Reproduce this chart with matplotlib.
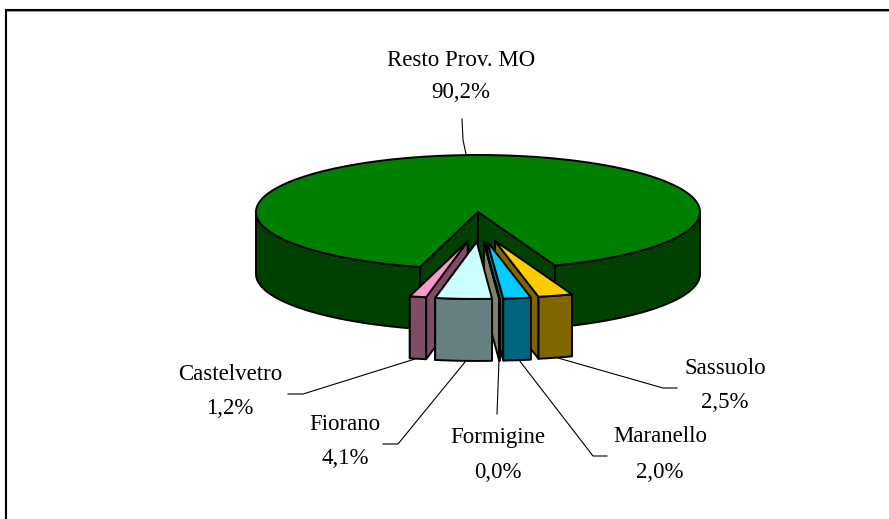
import numpy as np
from matplotlib import pyplot as plt
from matplotlib.patches import Polygon

plt.rcParams['font.family'] = ['Liberation Serif', 'DejaVu Serif']

# quote per comune, parte dal bordo destro del vuoto e gira in senso orario
names = ['Resto Prov. MO', 'Castelvetro', 'Fiorano', 'Formigine', 'Maranello', 'Sassuolo']
shares = [90.2, 1.2, 4.1, 0.04, 2.0, 2.5]
top_colors = ['#008000', '#FF99CC', '#CCFFFF', '#FFFFCC', '#00CCFF', '#FFCC00']
side_colors = ['#004000', '#804D66', '#668080', '#808066', '#006680', '#806600']

# geometria della torta in pixel
cx, cy = 478, 212
rx, ry = 222, 57
depth = 62
explode_x, explode_y = 55, 30
explode_shift = 2
start_angle = 20.3

label_pos = {
    'Resto Prov. MO': (461, 60, 92),
    'Castelvetro': (230, 374, 409),
    'Fiorano': (345, 425, 459),
    'Formigine': (498, 437, 472),
    'Maranello': (660, 437, 472),
    'Sassuolo': (725, 369, 403),
}
leaders = {
    'Resto Prov. MO': [(466, 154), (463, 140), (462, 119)],
    'Castelvetro': [(415, 359), (303, 394), (288, 394)],
    'Fiorano': [(465, 362), (398, 444), (383, 444)],
    'Formigine': [(499, 360), (497, 414)],
    'Maranello': [(519, 360), (593, 456), (607, 456)],
    'Sassuolo': [(558, 358), (663, 388), (677, 388)],
}


def rim(ox, oy, a, b):
    t = np.radians(np.linspace(a, b, max(int(abs(b - a)) * 2, 2)))
    return np.column_stack([ox + rx * np.sin(t), oy + ry * np.cos(t)])


def draw(ax, pts, color, z):
    ax.add_patch(Polygon(pts, closed=True, fc=color, ec='black', lw=1.4, joinstyle='round', zorder=z))


def draw_slice(ax, i, a, b, z):
    # a, b angoli da sud, positivi verso destra
    mid = np.radians((a + b) / 2)
    ox, oy = cx, cy
    if i > 0:
        ox = cx + explode_shift + explode_x * np.sin(mid)
        oy = cy + explode_y * np.cos(mid)
    apex = np.array([[ox, oy]])
    down = np.array([0, depth])
    # pareti piane visibili
    if a > 0:
        edge = rim(ox, oy, a, a)[:1]
        draw(ax, np.vstack([apex, edge, edge + down, apex + down]), side_colors[i], z)
    if b < 0 or b % 360 > 180:
        edge = rim(ox, oy, b, b)[:1]
        draw(ax, np.vstack([apex, edge, edge + down, apex + down]), side_colors[i], z)
    # parete esterna, solo la meta davanti
    for lo, hi in [(a, b), (a - 360, b - 360)]:
        lo, hi = max(lo, -90), min(hi, 90)
        if lo < hi:
            arc = rim(ox, oy, lo, hi)
            draw(ax, np.vstack([arc, arc[::-1] + down]), side_colors[i], z)
    draw(ax, np.vstack([apex, rim(ox, oy, a, b)]), top_colors[i], z)


fig = plt.figure(figsize=(8.89, 5.19), dpi=100)
ax = fig.add_axes([0, 0, 1, 1])
ax.set_xlim(0, 889)
ax.set_ylim(519, 0)
ax.axis('off')

# cornice: solo sopra e a sinistra
ax.plot([6, 6, 889], [519, 9.5, 9.5], color='black', lw=1.5, solid_joinstyle='miter')
ax.plot([7, 889], [11, 11], color='#999999', lw=0.8)

sweeps = np.array(shares) / sum(shares) * 360
ends = start_angle + np.cumsum(sweeps)
starts = ends - sweeps

# ordine di disegno: dal fondo verso il davanti
for z, i in enumerate([0, 1, 5, 4, 3, 2]):
    draw_slice(ax, i, starts[i], ends[i], z + 2)

for name, share in zip(names, shares):
    x, y1, y2 = label_pos[name]
    ax.text(x, y1, name, ha='center', va='center', fontsize=16.5, color='black', zorder=20)
    ax.text(x, y2, f'{share:.1f}%'.replace('.', ','), ha='center', va='center', fontsize=16.5, color='black', zorder=20)
    pts = np.array(leaders[name])
    ax.plot(pts[:, 0], pts[:, 1], color='black', lw=0.8, zorder=1 if name == 'Formigine' else 15)

fig.savefig('out.png', dpi=100)
